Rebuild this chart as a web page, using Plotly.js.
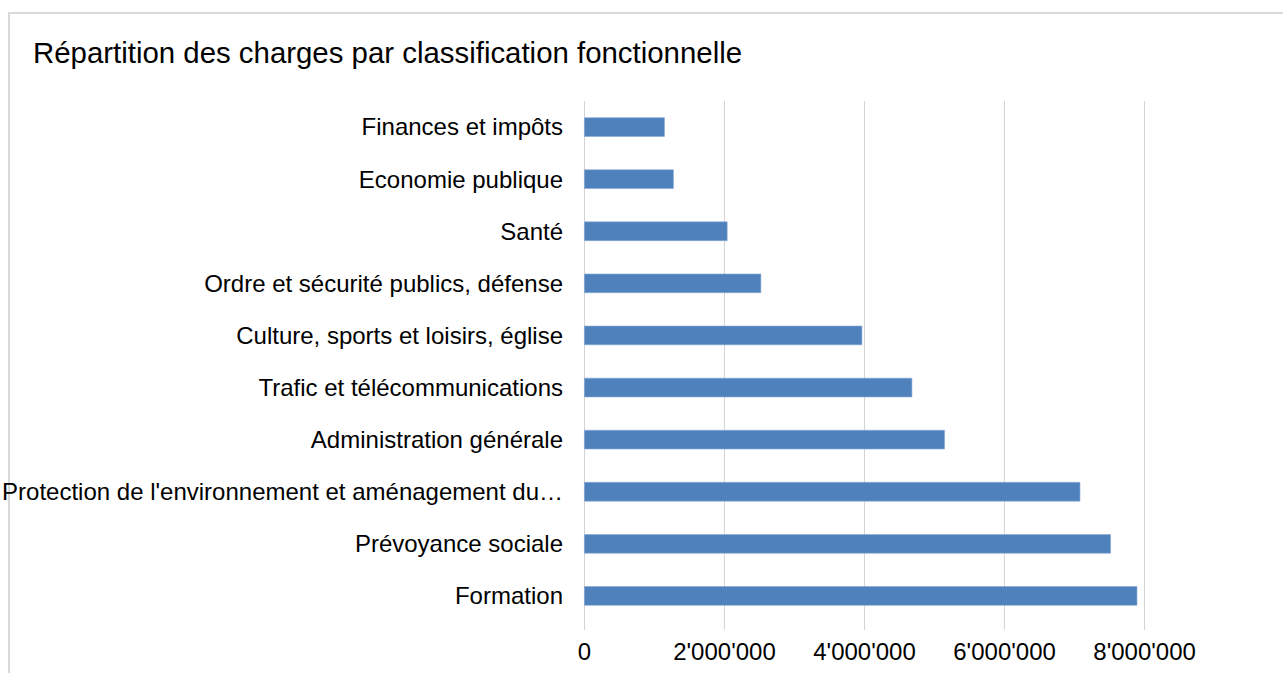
<!DOCTYPE html>
<html>
<head>
<meta charset="utf-8">
<script src="https://cdn.plot.ly/plotly-3.0.1.min.js"></script>
<style>
  html, body { margin: 0; padding: 0; background: #fff; overflow: hidden; }
  #frame { position: absolute; left: 8px; top: 12px; width: 1300px; height: 700px; border: 2px solid #d9d9d9; box-sizing: border-box; }
  #chart { position: absolute; left: 0; top: 0; width: 1283px; height: 673px; }
</style>
</head>
<body>
<div id="frame"></div>
<div id="chart"></div>
<script>
// Categories listed bottom-to-top (Plotly draws the first category at the bottom)
const categories = [
  "Formation",
  "Prévoyance sociale",
  "Protection de l'environnement et aménagement du…",
  "Administration générale",
  "Trafic et télécommunications",
  "Culture, sports et loisirs, église",
  "Ordre et sécurité publics, défense",
  "Santé",
  "Economie publique",
  "Finances et impôts"
];
const charges = [7891000, 7514000, 7077000, 5143000, 4677000, 3963000, 2520000, 2039000, 1271000, 1143000];
const tickValues = [0, 2000000, 4000000, 6000000, 8000000];
const tickLabels = ["0", "2'000'000", "4'000'000", "6'000'000", "8'000'000"];
const chartTitle = "Répartition des charges par classification fonctionnelle";

const FONT = "Liberation Sans, Arial, sans-serif";

const trace = {
  type: "bar",
  orientation: "h",
  y: categories,
  x: charges,
  marker: { color: "#4f81bd", line: { color: "#86a8d4", width: 0.6 } },
  hoverinfo: "x+y"
};

const layout = {
  width: 1283,
  height: 673,
  paper_bgcolor: "rgba(0,0,0,0)",
  plot_bgcolor: "rgba(0,0,0,0)",
  margin: { l: 582.9, r: 137.3, t: 101, b: 43, pad: 0 },
  showlegend: false,
  bargap: 0.64,
  title: {
    text: chartTitle,
    font: { family: FONT, size: 29.4, color: "#000" },
    xref: "container", yref: "container",
    x: 33 / 1283, xanchor: "left",
    y: 1 - 53 / 673, yanchor: "middle"
  },
  xaxis: {
    range: [-20000, 8020000],
    tickvals: tickValues,
    ticktext: tickLabels,
    showgrid: true,
    gridcolor: "#d4d4d4",
    gridwidth: 1.6,
    zeroline: false,
    showline: false,
    ticks: "",
    ticklabelstandoff: 5,
    tickfont: { family: FONT, size: 24, color: "#000" },
    fixedrange: true
  },
  yaxis: {
    type: "category",
    range: [-0.5 - 8 / 52.1, 9.5],
    showgrid: false,
    zeroline: false,
    showline: false,
    ticks: "",
    ticklabelstandoff: 19,
    tickfont: { family: FONT, size: 24, color: "#000" },
    fixedrange: true
  }
};

Plotly.newPlot("chart", [trace], layout, { displayModeBar: false, staticPlot: true });
</script>
</body>
</html>
